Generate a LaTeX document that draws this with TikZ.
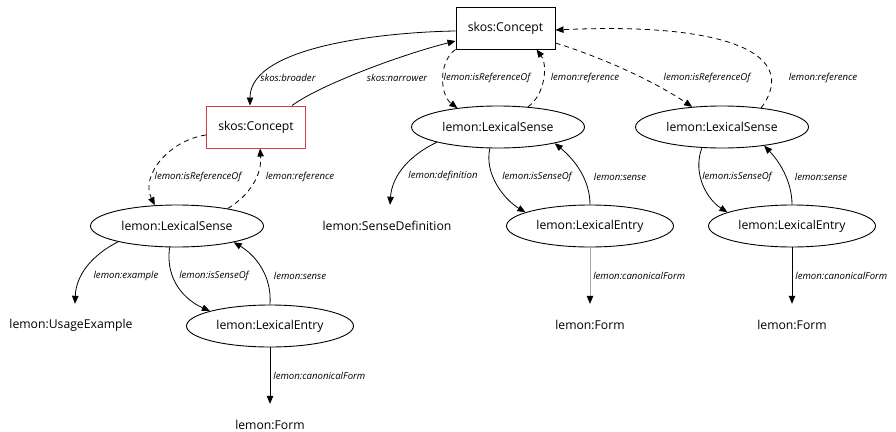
\documentclass[tikz,border=0pt]{standalone}
\usepackage{fontspec}
\setmainfont{Open Sans}
\usetikzlibrary{shapes.geometric,arrows.meta}
\definecolor{conceptred}{RGB}{214,62,62}
\tikzstyle{concept}=[rectangle,draw,line width=1pt,minimum width=99pt,minimum height=42pt,inner sep=0pt,font=\fontsize{12.2}{14}\selectfont]
\tikzstyle{sense}=[ellipse,draw,line width=0.9pt,minimum width=173pt,minimum height=42pt,inner sep=0pt,font=\fontsize{12.2}{14}\selectfont]
\tikzstyle{entry}=[sense,minimum width=167pt]
\tikzstyle{plain}=[minimum height=42pt,inner sep=0pt,font=\fontsize{12.2}{14}\selectfont]
\tikzstyle{edge}=[draw,line width=0.8pt,-{Triangle[length=8pt,width=6.5pt,color=black]}]
\tikzstyle{ref}=[edge,dash pattern=on 5pt off 4pt]
\tikzstyle{lbl}=[font=\fontsize{9.6}{11}\selectfont\itshape,inner sep=1pt]

\begin{document}
\begin{tikzpicture}[x=1pt,y=-1pt]
  \useasboundingbox[fill=white] (0,0) rectangle (896,431);
  % concepts
  \node[concept] (top) at (505.5,28) {skos:Concept};
  \node[concept,draw=conceptred] (red) at (256,127) {skos:Concept};
  % senses
  \node[sense] (lsense) at (177,226) {lemon:LexicalSense};
  \node[sense] (msense) at (498,127) {lemon:LexicalSense};
  \node[sense] (rsense) at (722,127) {lemon:LexicalSense};
  % entries
  \node[entry] (lentry) at (270,326) {lemon:LexicalEntry};
  \node[entry] (mentry) at (590,226) {lemon:LexicalEntry};
  \node[entry] (rentry) at (792,226) {lemon:LexicalEntry};
  % plain nodes
  \node[plain] (usage) at (71,325) {lemon:UsageExample};
  \node[plain] (definition) at (387,226) {lemon:SenseDefinition};
  \node[plain] (lform) at (270,425) {lemon:Form};
  \node[plain] (mform) at (590,325) {lemon:Form};
  \node[plain] (rform) at (792,325) {lemon:Form};

  % skos relations
  \draw[edge] ([yshift=-3pt]top.west) .. controls (390,32) and (250,45) .. ([xshift=-6pt]red.north)
    node[lbl] at (288,78) {skos:broader};
  \draw[edge] ([xshift=36pt]red.north) .. controls (320,85) and (400,55) .. ([yshift=-13pt]top.west)
    node[lbl] at (397,78) {skos:narrower};

  % references, middle
  \draw[ref] (top.south west) .. controls (438,62) and (440,95) .. (msense.155)
    node[lbl] at (487,78) {lemon:isReferenceOf};
  \draw[ref] (msense.34) .. controls (545,95) and (548,65) .. ([xshift=31pt]top.south)
    node[lbl] at (585,78) {lemon:reference};
  % references, right
  \draw[ref] ([yshift=-15pt]top.east) .. controls (610,60) and (660,85) .. (rsense.146)
    node[lbl] at (707,78) {lemon:isReferenceOf};
  \draw[ref] (rsense.26) .. controls (800,55) and (730,22) .. ([yshift=-2pt]top.east)
    node[lbl] at (823,78) {lemon:reference};
  % references, left
  \draw[ref] ([yshift=-8pt]red.west) .. controls (170,140) and (140,175) .. (lsense.137)
    node[lbl] at (198,177) {lemon:isReferenceOf};
  \draw[ref] (lsense.19) .. controls (250,195) and (262,175) .. ([xshift=4pt]red.south)
    node[lbl] at (300,177) {lemon:reference};

  % middle sense
  \draw[edge] (msense.194) .. controls (410,155) and (392,175) .. ([xshift=3pt]definition.north)
    node[lbl] at (443,176) {lemon:definition};
  \draw[edge] (msense.249) .. controls (484,175) and (505,200) .. (mentry.168)
    node[lbl] at (537,177) {lemon:isSenseOf};
  \draw[edge] (mentry.north) .. controls (590,180) and (575,160) .. (msense.344)
    node[lbl] at (620,177) {lemon:sense};
  \draw[edge,draw=black!35,line width=0.5pt] (mentry.south) -- (mform.north)
    node[lbl,anchor=west] at (592,276) {lemon:canonicalForm};

  % right sense
  \draw[edge] (rsense.226) .. controls (692,175) and (708,200) .. (rentry.168)
    node[lbl] at (737,177) {lemon:isSenseOf};
  \draw[edge] (rentry.north) .. controls (792,180) and (778,160) .. (rsense.336)
    node[lbl] at (821,177) {lemon:sense};
  \draw[edge] (rentry.south) -- (rform.north)
    node[lbl,anchor=west] at (794,276) {lemon:canonicalForm};

  % left sense
  \draw[edge] (lsense.195) .. controls (92,255) and (76,275) .. ([xshift=4pt]usage.north)
    node[lbl] at (126,276) {lemon:example};
  \draw[edge] (lsense.251) .. controls (165,280) and (185,300) .. (lentry.166)
    node[lbl] at (214,276) {lemon:isSenseOf};
  \draw[edge] (lentry.north) .. controls (272,275) and (255,255) .. (lsense.344)
    node[lbl] at (300,276) {lemon:sense};
  \draw[edge] (lentry.south) -- (lform.north)
    node[lbl,anchor=west] at (272,376) {lemon:canonicalForm};
\end{tikzpicture}
\end{document}
